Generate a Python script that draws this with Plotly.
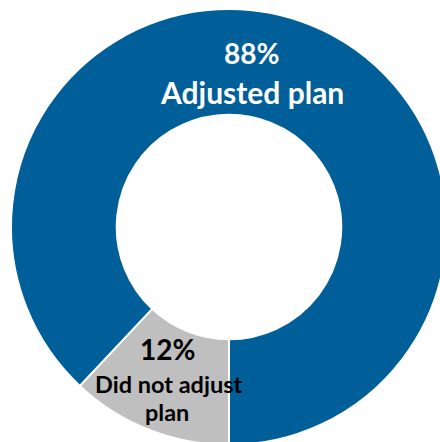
import plotly.graph_objects as go

# Survey result: share of respondents who adjusted their plan
labels = ["Did not adjust plan", "Adjusted plan"]
values = [12, 88]
colors = ["#BFBFBF", "#005F98"]
label_lines = [["Did not adjust", "plan"], ["Adjusted plan"]]

W, H = 447, 445
ML, MT = 11, 9
PLOT = 436

fig = go.Figure(
    go.Pie(
        labels=labels,
        values=values,
        hole=0.515,
        sort=False,
        direction="clockwise",
        rotation=180,
        marker=dict(colors=colors, line=dict(color="white", width=2)),
        textinfo="none",
        hoverinfo="label+percent",
    )
)


def px_to_paper(x, y):
    return (x - ML) / PLOT, 1 - (y - MT) / PLOT


def add_text(text, x, y, size, color):
    px, py = px_to_paper(x, y)
    fig.add_annotation(
        text=f"<b>{text}</b>", x=px, y=py, xref="paper", yref="paper",
        xanchor="center", yanchor="middle", showarrow=False,
        font=dict(family="Lato", size=size, color=color),
    )


# Adjusted plan label (white, on the blue ring)
add_text(f"{values[1]}%", 251, 53, 28, "white")
add_text(label_lines[1][0], 252, 92, 30, "white")

# Did not adjust plan label (black, on the grey slice)
add_text(f"{values[0]}%", 167, 349, 28, "black")
add_text(label_lines[0][0], 168, 384, 23.5, "black")
add_text(label_lines[0][1], 167, 412, 23.5, "black")

fig.update_layout(
    width=W, height=H,
    margin=dict(l=ML, r=W - ML - PLOT, t=MT, b=H - MT - PLOT, pad=0),
    showlegend=False,
    paper_bgcolor="white",
    plot_bgcolor="white",
)

fig.write_html(
    "out.html",
    post_script="document.body.style.margin='0';document.body.style.overflow='hidden';",
)
